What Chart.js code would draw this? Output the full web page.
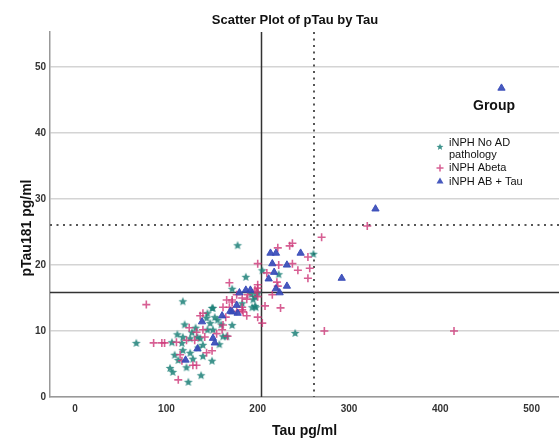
<!DOCTYPE html>
<html lang="en">
<head>
<meta charset="UTF-8">
<title>Scatter Plot of pTau by Tau</title>
<script src="https://cdn.jsdelivr.net/npm/chart.js@4"></script>
<style>
  html, body { margin: 0; padding: 0; background: #fff; overflow: hidden; }
  .wrap { width: 559px; height: 441px; position: relative; overflow: hidden; }
  canvas { display: block; }
</style>
</head>
<body>
<div class="wrap"><canvas id="scatterChart"></canvas></div>
<script>
// Group labels
const groupTitle = 'Group';
const groupNames = [['iNPH No AD', 'pathology'], ['iNPH Abeta'], ['iNPH AB + Tau']];

// iNPH No AD pathology (teal stars)
const noAdTau  = [67, 118, 178, 261, 241, 205, 223, 187, 172, 197, 200, 194, 198, 172, 144, 128, 118, 106, 117, 126,
                  137, 140, 109, 118, 113, 129, 104, 122, 126, 107, 124, 138, 151, 193, 195, 197, 183, 150, 145, 153,
                  156, 145, 151, 162, 166, 134, 160, 148, 132, 140, 150, 112, 120, 135, 158];
const noAdPtau = [8.2, 14.5, 23, 21.7, 9.7, 19.2, 18.6, 18.2, 16.4, 15.2, 15.8, 13.6, 13.6, 10.9, 12, 9.8, 9.1, 8.3, 8.2, 8.9,
                  8.9, 7.9, 6.4, 7.1, 5.6, 5.8, 4.4, 4.5, 6.7, 3.8, 2.3, 3.3, 13.5, 15.6, 14.8, 13.8, 14.2, 13.5, 12.7, 12.1,
                  11.7, 10.2, 10.2, 9.2, 9.2, 9.1, 11, 11.2, 10.5, 6.2, 5.5, 9.5, 11, 7.5, 8];

// iNPH Abeta (pink crosses)
const abetaTau  = [78, 86, 95, 98, 111, 122, 131, 115, 117, 129, 133, 113, 144, 140, 133, 320, 270, 255, 257, 255,
                   273, 415, 238, 235, 222, 200, 223, 238, 244, 210, 221, 222, 169, 200, 199, 216, 189, 172, 183, 208,
                   225, 183, 169, 184, 200, 205, 165, 167, 200, 197, 177, 200, 188, 172, 166, 162, 177, 183, 188, 137,
                   162, 161, 140, 142, 150, 125, 155];
const abetaPtau = [14, 8.2, 8.2, 8.2, 8.3, 8.6, 8.6, 6.4, 5.5, 4.8, 4.8, 2.6, 6.7, 12.7, 9.8, 25.9, 24.2, 21.2, 19.5, 18,
                   10, 10, 23.3, 22.9, 22.6, 20.2, 20, 20.2, 19.2, 18.8, 17.4, 16.8, 17.3, 16.5, 15.9, 15.5, 15.5, 14.7, 15, 13.8,
                   13.5, 13.6, 13.6, 12.9, 12.1, 11.2, 12.1, 9.2, 17, 16.2, 15.5, 15.2, 14.8, 14.4, 14.7, 13.6, 13, 13.2, 12.3, 12.3,
                   10.9, 10.2, 10.2, 9.1, 7, 10.5, 9.6];

// iNPH AB + Tau (blue triangles)
const abTauTau  = [467, 329, 292, 214, 220, 247, 216, 232, 218, 212, 232, 220, 180, 187, 192, 224, 177, 172, 178, 139,
                   134, 121, 151, 153, 170, 161];
const abTauPtau = [46.8, 28.5, 18, 21.8, 21.8, 21.8, 20.2, 20, 18.9, 17.9, 16.8, 16.4, 15.8, 16.2, 16.2, 15.8, 13.9, 12.9, 12.7, 11.4,
                   7.3, 5.6, 8.9, 8.2, 13, 12.3];

// Reference cut-offs
const tauCutoffs  = [204, 262];   // solid, dotted
const ptauCutoffs = [15.9, 26];   // solid, dotted

const tealColor = 'rgba(28, 128, 120, 0.85)';
const pinkColor = 'rgba(205, 55, 120, 0.8)';
const blueColor = 'rgba(55, 75, 185, 0.92)';

function toPoints(xs, ys) {
    return xs.map((x, i) => ({ x: x, y: ys[i] }));
}

function drawStar(ctx, cx, cy, r, color) {
    ctx.save();
    ctx.beginPath();
    for (let i = 0; i < 10; i++) {
        const rad = i % 2 === 0 ? r : r * 0.45;
        const a = -Math.PI / 2 + i * Math.PI / 5;
        const px = cx + rad * Math.cos(a);
        const py = cy + rad * Math.sin(a);
        if (i === 0) ctx.moveTo(px, py); else ctx.lineTo(px, py);
    }
    ctx.closePath();
    ctx.fillStyle = color;
    ctx.fill();
    ctx.restore();
}

// star marker as an image pointStyle
const starImg = document.createElement('canvas');
starImg.width = 10;
starImg.height = 10;
drawStar(starImg.getContext('2d'), 5, 5.4, 4.6, tealColor);

// chart title, y axis title, legend and reference lines
const annotations = {
    id: 'annotations',
    beforeDatasetsDraw(chart) {
        const ctx = chart.ctx;
        const area = chart.chartArea;
        const xs = chart.scales.x, ys = chart.scales.y;
        ctx.save();
        ctx.strokeStyle = '#333';
        // solid lines
        ctx.lineWidth = 1.5;
        ctx.setLineDash([]);
        let px = Math.round(xs.getPixelForValue(tauCutoffs[0])) + 0.5;
        let py = Math.round(ys.getPixelForValue(ptauCutoffs[0])) + 0.5;
        ctx.beginPath();
        ctx.moveTo(px, area.top); ctx.lineTo(px, area.bottom);
        ctx.moveTo(area.left, py); ctx.lineTo(area.right, py);
        ctx.stroke();
        // dotted lines
        ctx.strokeStyle = '#555';
        ctx.lineWidth = 2;
        ctx.setLineDash([2, 4.5]);
        px = Math.round(xs.getPixelForValue(tauCutoffs[1]));
        py = Math.round(ys.getPixelForValue(ptauCutoffs[1]));
        ctx.beginPath();
        ctx.moveTo(px, area.top); ctx.lineTo(px, area.bottom);
        ctx.moveTo(area.left, py); ctx.lineTo(area.right, py);
        ctx.stroke();
        ctx.restore();
    },
    afterDraw(chart) {
        const ctx = chart.ctx;
        ctx.save();
        ctx.fillStyle = '#111';
        ctx.textAlign = 'center';
        ctx.textBaseline = 'middle';
        ctx.font = 'bold 13px "Liberation Sans", Arial, sans-serif';
        ctx.fillText('Scatter Plot of pTau by Tau', 295, 20);

        ctx.font = 'bold 14px "Liberation Sans", Arial, sans-serif';
        ctx.save();
        ctx.translate(27, 228);
        ctx.rotate(-Math.PI / 2);
        ctx.fillText('pTau181 pg/ml', 0, 0);
        ctx.restore();

        // legend
        ctx.fillText(groupTitle, 494, 106);
        ctx.font = '11px "Liberation Sans", Arial, sans-serif';
        ctx.textAlign = 'left';
        const lx = 449;
        const mx = 440;
        ctx.fillText(groupNames[0][0], lx, 143);
        ctx.fillText(groupNames[0][1], lx, 155);
        ctx.fillText(groupNames[1][0], lx, 168);
        ctx.fillText(groupNames[2][0], lx, 181.5);
        drawStar(ctx, mx, 147, 3.6, tealColor);
        ctx.strokeStyle = pinkColor;
        ctx.lineWidth = 1.5;
        ctx.beginPath();
        ctx.moveTo(mx - 3.5, 168); ctx.lineTo(mx + 3.5, 168);
        ctx.moveTo(mx, 164.5); ctx.lineTo(mx, 171.5);
        ctx.stroke();
        ctx.fillStyle = blueColor;
        ctx.beginPath();
        ctx.moveTo(mx, 177.5); ctx.lineTo(mx + 3.5, 183.5); ctx.lineTo(mx - 3.5, 183.5);
        ctx.closePath();
        ctx.fill();
        ctx.restore();
    }
};

const tickFont = { family: '"Liberation Sans", Arial, sans-serif', size: 10, weight: 'bold' };

new Chart(document.getElementById('scatterChart'), {
    type: 'scatter',
    data: {
        datasets: [
            {
                label: 'iNPH AB + Tau',
                data: toPoints(abTauTau, abTauPtau),
                pointStyle: 'triangle',
                pointRadius: 4.2,
                backgroundColor: blueColor,
                borderColor: blueColor,
                borderWidth: 1
            },
            {
                label: 'iNPH Abeta',
                data: toPoints(abetaTau, abetaPtau),
                pointStyle: 'cross',
                pointRadius: 4,
                borderColor: pinkColor,
                backgroundColor: pinkColor,
                borderWidth: 1.6
            },
            {
                label: 'iNPH No AD pathology',
                data: toPoints(noAdTau, noAdPtau),
                pointStyle: starImg,
                pointRadius: 5,
                backgroundColor: tealColor,
                borderColor: tealColor
            }
        ]
    },
    options: {
        responsive: true,
        maintainAspectRatio: false,
        animation: false,
        layout: { autoPadding: false, padding: { top: 32, right: 0, left: 0, bottom: 0 } },
        plugins: {
            legend: { display: false },
            title: { display: false },
            tooltip: { enabled: false }
        },
        scales: {
            x: {
                type: 'linear',
                min: -27.5,
                max: 530,
                afterFit(scale) {
                    scale.height = 44;
                    scale.paddingLeft = 0;
                    scale.paddingRight = 0;
                },
                ticks: { stepSize: 100, includeBounds: false, color: '#333', font: tickFont, padding: 6, maxRotation: 0 },
                grid: { display: false, drawTicks: false },
                border: { display: true, color: '#999', width: 1.5 },
                title: {
                    display: true,
                    text: 'Tau pg/ml',
                    color: '#111',
                    font: { family: '"Liberation Sans", Arial, sans-serif', size: 14, weight: 'bold' },
                    padding: { top: 0, bottom: 1 }
                }
            },
            y: {
                type: 'linear',
                min: 0,
                max: 55.3,
                afterFit(scale) {
                    scale.width = 50;
                    scale.paddingTop = 0;
                    scale.paddingBottom = 0;
                },
                ticks: { stepSize: 10, includeBounds: false, color: '#333', font: tickFont, padding: 4 },
                grid: { color: '#d4d4d4', lineWidth: 1.5, drawTicks: false },
                border: { display: true, color: '#999', width: 1.5 }
            }
        }
    },
    plugins: [annotations]
});
</script>
</body>
</html>
